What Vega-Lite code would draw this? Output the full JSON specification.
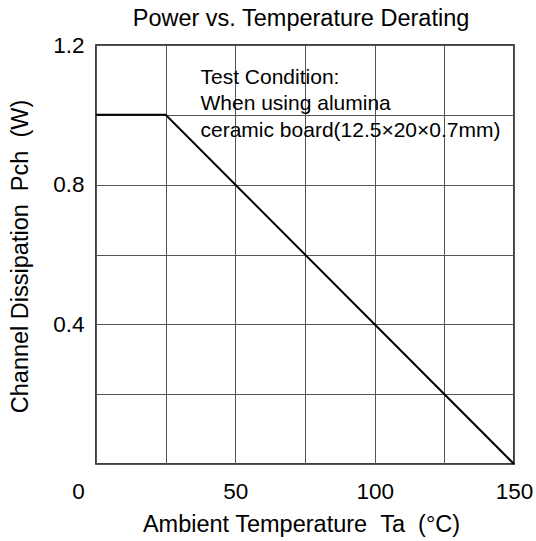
{
  "$schema": "https://vega.github.io/schema/vega-lite/v6.json",
  "width": 418,
  "height": 419,
  "autosize": "none",
  "padding": {"left": 96, "top": 45, "right": 22, "bottom": 77},
  "background": "white",
  "config": {
    "font": "Liberation Sans",
    "view": {"stroke": "black", "strokeWidth": 1.5},
    "axis": {"labelFont": "Liberation Sans", "titleFont": "Liberation Sans", "labelColor": "black", "titleColor": "black", "titleFontWeight": "normal"}
  },
  "title": {"text": "Power vs. Temperature Derating", "fontSize": 23.5, "fontWeight": "normal", "font": "Liberation Sans", "color": "black", "baseline": "alphabetic", "offset": -15, "dx": -4},
  "layer": [
    {
      "mark": {"type": "rect", "fill": "white"},
      "encoding": {
        "x": {"datum": 33.7, "type": "quantitative"},
        "x2": {"datum": 146.8},
        "y": {"datum": 0.885, "type": "quantitative"},
        "y2": {"datum": 1.14}
      }
    },
    {
      "data": {"values": [
        {"Ta": 0, "Pch": 1.0},
        {"Ta": 25, "Pch": 1.0},
        {"Ta": 150, "Pch": 0.0}
      ]},
      "mark": {"type": "line", "color": "black", "strokeWidth": 2},
      "encoding": {
        "x": {"field": "Ta", "type": "quantitative", "scale": {"domain": [0, 150], "nice": false},
          "axis": {"values": [0, 25, 50, 75, 100, 125, 150], "labelExpr": "datum.value % 50 == 0 ? datum.label : ''",
            "title": "Ambient Temperature\u00a0\u00a0Ta\u00a0\u00a0(°C)", "titleFontSize": 23.5, "labelFontSize": 22.5,
            "ticks": false, "domain": false, "grid": true, "gridColor": "#555", "gridWidth": 1, "gridOpacity": 1,
            "labelPadding": 16, "labelFlush": false, "labelOverlap": false,
            "labelOffset": {"condition": {"test": "datum.value == 0", "value": -18}, "value": 0},
            "titleX": 205, "titleY": 67.5, "titleBaseline": "alphabetic", "titleAlign": "center"}},
        "y": {"field": "Pch", "type": "quantitative", "scale": {"domain": [0, 1.2], "nice": false},
          "axis": {"values": [0, 0.2, 0.4, 0.6, 0.8, 1.0, 1.2], "labelExpr": "(datum.value == 0.4 || datum.value == 0.8 || datum.value == 1.2) ? format(datum.value, '.1f') : ''",
            "title": "Channel Dissipation\u00a0\u00a0Pch\u00a0\u00a0(W)", "titleFontSize": 23.5, "labelFontSize": 22.5,
            "ticks": false, "domain": false, "grid": true, "gridColor": "#555", "gridWidth": 1, "gridOpacity": 1,
            "labelPadding": 12, "labelFlush": false, "labelOverlap": false,
            "titleX": -69, "titleY": 211, "titleAngle": 270, "titleBaseline": "alphabetic", "titleAlign": "center"}}
      }
    },
    {
      "data": {"values": [{"label": ["Test Condition:", "When using alumina", "ceramic board(12.5×20×0.7mm)"]}]},
      "mark": {"type": "text", "align": "left", "baseline": "top", "fontSize": 21, "lineHeight": 26.5, "font": "Liberation Sans", "color": "black"},
      "encoding": {
        "x": {"datum": 37.5, "type": "quantitative"},
        "y": {"datum": 1.137, "type": "quantitative"},
        "text": {"field": "label"}
      }
    }
  ]
}
